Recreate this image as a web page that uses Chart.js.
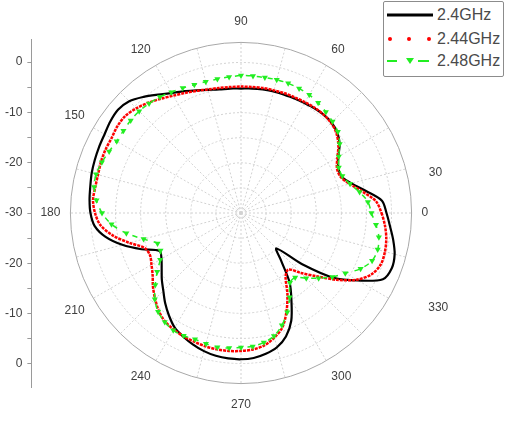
<!DOCTYPE html>
<html>
<head>
<meta charset="utf-8">
<title>Radiation pattern</title>
<script src="https://cdn.jsdelivr.net/npm/chart.js@4.4.0/dist/chart.umd.min.js"></script>
<style>
  html, body { margin: 0; background: #fff; }
  #wrap { position: relative; width: 530px; height: 439px; overflow: hidden; }
  #wrap canvas { position: absolute; left: 0; top: 0; }
  #legend {
    position: absolute; left: 383px; top: 1px; width: 119px; height: 74px;
    border: 1.5px solid #8c8c8c; border-radius: 2px; background: #fff;
    font: 16px 'Liberation Sans', Arial, sans-serif; color: #4a4a4a;
  }
  .row { position: absolute; left: 3px; width: 114px; height: 20px; line-height: 20px; white-space: nowrap; }
  .row svg { position: absolute; left: 0; top: 0; }
  .row span { position: absolute; left: 50px; top: 0; }
</style>
</head>
<body>
<div id="wrap">
  <canvas id="axis" width="120" height="439"></canvas>
  <canvas id="polar" width="530" height="439"></canvas>
  <div id="legend">
    <div class="row" style="top:3px">
      <svg width="48" height="20"><line x1="0" y1="10" x2="46" y2="10" stroke="#000" stroke-width="3"/></svg>
      <span>2.4GHz</span>
    </div>
    <div class="row" style="top:27px">
      <svg width="48" height="20">
        <circle cx="3" cy="10" r="2" fill="#ff0000"/>
        <circle cx="22" cy="10" r="2" fill="#ff0000"/>
        <circle cx="42" cy="10" r="2" fill="#ff0000"/>
      </svg>
      <span>2.44GHz</span>
    </div>
    <div class="row" style="top:49px">
      <svg width="48" height="20">
        <line x1="0" y1="10" x2="10" y2="10" stroke="#22ee22" stroke-width="2"/>
        <polygon points="19,7 27,7 23,13" fill="#22ee22"/>
        <line x1="31" y1="10" x2="42" y2="10" stroke="#22ee22" stroke-width="2"/>
      </svg>
      <span>2.48GHz</span>
    </div>
  </div>
</div>
<script>
// angle in degrees, counter-clockwise from 0 at the right
const angles = [
  0, 5, 10, 15, 20, 25, 30, 35, 40, 45, 50, 55,
  60, 65, 70, 75, 80, 85, 90, 95, 100, 105, 110, 115,
  120, 125, 130, 135, 140, 145, 150, 155, 160, 165, 170, 175,
  180, 185, 190, 195, 200, 205, 210, 215, 220, 225, 230, 235,
  240, 245, 250, 255, 260, 265, 270, 275, 280, 285, 290, 295,
  300, 305, 310, 315, 320, 325, 330, 335, 340, 345, 350, 355
];

// gain in dB at each angle
const gain24 = [
  -1.0, -1.8, -4.7, -7.2, -8.7, -8.6, -7.6, -6.0, -5.0, -4.5,
  -4.4, -4.5, -4.7, -4.8, -4.9, -4.9, -5.0, -5.1, -5.2, -5.1,
  -5.0, -4.6, -4.0, -3.2, -2.4, -1.2, 0.2, 1.5, 2.0, 1.8,
  1.4, 1.2, 1.0, 0.8, 0.5, 0.3, 0.0, -0.7, -2.6, -5.5,
  -8.9, -12.1, -11.7, -10.7, -9.4, -8.1, -6.5, -5.0, -3.6, -2.8,
  -2.1, -1.5, -1.1, -0.9, -0.85, -1.0, -1.5, -2.3, -3.8, -6.3,
  -9.9, -13.1, -17.5, -20.0, -14.2, -7.5, -3.1, 1.2, 2.0, 1.7,
  0.8, -0.2
];
const gain244 = [
  -2.0, -3.0, -5.4, -7.6, -8.9, -8.9, -7.8, -6.3, -5.2, -4.6,
  -4.4, -4.4, -4.5, -4.6, -4.6, -4.7, -4.7, -4.8, -4.8, -4.8,
  -4.7, -4.5, -4.1, -3.6, -3.0, -2.2, -1.3, -0.5, 0.1, 0.1,
  -0.2, -0.2, -0.3, -0.5, -0.5, -0.4, -0.9, -1.9, -4.1, -7.0,
  -9.6, -10.0, -9.4, -8.5, -7.1, -5.8, -4.5, -3.6, -3.2, -2.9,
  -2.7, -2.5, -2.4, -2.4, -2.5, -2.7, -3.2, -4.3, -5.8, -8.5,
  -11.5, -14.5, -15.3, -13.1, -10.4, -6.8, -3.4, -1.2, -0.3, -0.3,
  -0.6, -1.2
];
const gain248 = [
  -4.0, -4.6, -6.0, -7.5, -8.5, -8.5, -7.5, -6.0, -4.8, -4.2,
  -3.7, -3.2, -2.8, -2.6, -2.5, -2.5, -2.6, -2.6, -2.6, -2.8,
  -2.9, -2.9, -2.8, -2.5, -2.2, -1.8, -1.5, -1.3, -1.3, -1.4,
  -1.4, -1.0, -0.5, -0.1, -0.3, -1.1, -2.3, -4.1, -6.8, -9.9,
  -12.3, -12.3, -11.4, -9.6, -7.7, -5.7, -4.3, -3.5, -3.0, -3.0,
  -3.2, -3.0, -2.85, -3.0, -3.2, -3.3, -3.8, -4.6, -6.2, -8.2,
  -10.6, -13.0, -13.2, -11.6, -9.8, -7.8, -6.0, -3.7, -2.2, -1.8,
  -2.1, -3.0
];

const ringValues = [-30, -25, -20, -15, -10, -5, 0, 4];
const axisTickValues = [-30, -25, -20, -15, -10, -5, 0, 5, 10, 15, 20, 25, 30];
// angle label text, keyed by the angle slot it sits at (30 and 330 sit off their ray, as in the source plot)
const angleLabels = {
  0: '0', 10: '30', 60: '60', 90: '90', 120: '120', 150: '150', 180: '180',
  210: '210', 240: '240', 270: '270', 300: '300', 335: '330'
};

Chart.defaults.font.family = "'Liberation Sans', Arial, sans-serif";
Chart.defaults.animation = false;

// radar goes clockwise, so slot i holds the angle 360 - 5i
const n = angles.length;
const slot = angles.map((a, i) => (n - i) % n);
const toRadar = arr => slot.map(k => arr[k]);

function labelPadding(c) {
  if (c.label === '') return 0;
  if (c.label === '90' || c.label === '270') return 14;
  if (c.label === '30') return 20;
  if (c.label === '330') return 36;
  return 10;
}

new Chart(document.getElementById('polar'), {
  type: 'radar',
  data: {
    labels: toRadar(angles),
    datasets: [
      {
        label: '2.4GHz', data: toRadar(gain24),
        borderColor: '#000', borderWidth: 2.2, pointRadius: 0, order: 2
      },
      {
        label: '2.44GHz', data: toRadar(gain244),
        borderColor: '#ff0000', borderWidth: 2.5, borderDash: [3, 1], pointRadius: 0, order: 1
      },
      {
        label: '2.48GHz', data: toRadar(gain248),
        borderColor: '#22ee22', borderWidth: 1.5, borderDash: [5, 6],
        pointStyle: 'triangle', rotation: 180, pointRadius: 3.5,
        pointBackgroundColor: '#22ee22', pointBorderWidth: 0, order: 0
      }
    ]
  },
  options: {
    responsive: false,
    layout: { padding: { left: 2, right: 50, top: 14, bottom: 27 } },
    elements: { line: { tension: 0.3, fill: false } },
    plugins: { legend: { display: false }, tooltip: { enabled: false } },
    scales: {
      r: {
        startAngle: 90,
        min: -30,
        max: 4,
        afterBuildTicks: s => { s.ticks = ringValues.map(v => ({ value: v })); },
        ticks: { display: false },
        grid: {
          circular: true,
          color: c => (c.tick && c.tick.value === 4) ? '#a8a8a8' : '#d2d2d2',
          lineWidth: 1
        },
        border: { dash: c => (c.tick && c.tick.value === 4) ? [] : [2, 2] },
        angleLines: {
          color: c => c.index % 3 === 0 ? '#d2d2d2' : 'transparent',
          lineWidth: c => c.index % 3 === 0 ? 1 : 0,
          borderDash: [2, 2]
        },
        pointLabels: {
          callback: v => angleLabels[v] || '',
          color: '#404040',
          font: { size: 12 },
          padding: labelPadding
        }
      }
    }
  }
});

new Chart(document.getElementById('axis'), {
  type: 'scatter',
  data: { datasets: [] },
  options: {
    responsive: false,
    layout: { padding: { left: 0, right: 0, top: 39, bottom: 52 } },
    plugins: { legend: { display: false }, tooltip: { enabled: false } },
    scales: {
      x: { display: false },
      y: {
        min: -34.6,
        max: 34.6,
        afterBuildTicks: s => { s.ticks = axisTickValues.map(v => ({ value: v })); },
        ticks: {
          autoSkip: false,
          callback: v => v % 10 === 0 ? String(Math.abs(v) - 30) : '',
          color: '#404040',
          font: { size: 12 },
          padding: 5
        },
        grid: { drawOnChartArea: false, tickLength: 4, color: '#9a9a9a' },
        border: { color: '#9a9a9a' }
      }
    }
  }
});
</script>
</body>
</html>
